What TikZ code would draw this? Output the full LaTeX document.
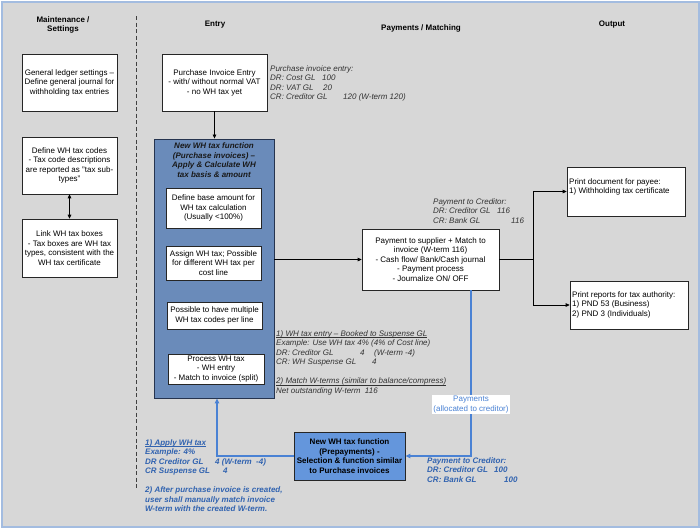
\documentclass[tikz,border=0pt]{standalone}
\usepackage{fontspec}
\setmainfont{Liberation Sans}
\usetikzlibrary{arrows.meta}
\definecolor{bgray}{HTML}{D7D7D7}
\definecolor{frameblue}{HTML}{A3BCE0}
\definecolor{bigblue}{HTML}{6A8BBA}
\definecolor{bigedge}{HTML}{26344F}
\definecolor{preblue}{HTML}{6496DC}
\definecolor{lineblue}{HTML}{4A82D4}
\definecolor{textblue}{HTML}{3163B0}
\definecolor{notegray}{HTML}{333333}
\newcommand\colat[2]{\makebox[#1][l]{#2}}
\newcommand\ulin[1]{\underline{\raisebox{0pt}[\height][0pt]{#1}}}
\begin{document}
\begin{tikzpicture}[x=1pt,y=-1pt,
  font=\fontsize{8}{9.5}\selectfont,
  box/.style={draw=black!85, fill=white, line width=0.7pt, align=center, inner sep=1pt},
  arr/.style={-{Triangle[length=4pt,width=3.6pt]}, line width=0.7pt},
  barr/.style={-{Triangle[length=5pt,width=4.5pt]}, line width=1.1pt, draw=lineblue, color=lineblue},
  note/.style={anchor=north west, align=left, inner sep=0pt, font=\fontsize{8}{9.5}\selectfont\itshape, text=notegray},
  bnote/.style={anchor=north west, align=left, inner sep=0pt, font=\fontsize{8}{9.5}\selectfont\bfseries\itshape, text=textblue},
  head/.style={font=\fontsize{8}{9.5}\selectfont\bfseries, align=center, inner sep=0pt}]
\useasboundingbox (0,0) rectangle (700,528);
\draw[frameblue, line width=2pt, fill=bgray] (1.5,1.5) rectangle (698.5,526.5);

% headers
\node[head] (h1) at (63,25) {Maintenance /\\Settings};
\node[head] (h2) at (215,25) {Entry};
\node[head] (h3) at (421,28) {Payments / Matching};
\node[head] (h4) at (612,25) {Output};

% dashed separator
\coordinate (dtop) at (136,16);
\coordinate (dbot) at (136,490);
\draw[black!75, line width=1pt, dash pattern=on 4pt off 2.5pt] (dtop) -- (dbot);

% maintenance boxes
\node[box, minimum width=95pt, minimum height=57pt] (gl) at (69.5,82.5)
  {General ledger settings –\\Define general journal for\\withholding tax entries};
\node[box, minimum width=95pt, minimum height=57pt] (codes) at (69.5,165.5)
  {Define WH tax codes\\- Tax code descriptions\\are reported as "tax sub-\\types"};
\node[box, minimum width=95pt, minimum height=58pt] (link) at (69.5,248)
  {Link WH tax boxes\\- Tax boxes are WH tax\\types, consistent with the\\WH tax certificate};
\draw[{Triangle[length=4pt,width=3.6pt]}-{Triangle[length=4pt,width=3.6pt]}, line width=0.8pt] (codes.south) -- (link.north);

% entry
\node[box, minimum width=105pt, minimum height=57pt] (pie) at (214.5,82.5)
  {Purchase Invoice Entry\\- with/ without normal VAT\\- no WH tax yet};
\node[note] (n1) at (270,65)
  {Purchase invoice entry:\\
   \colat{52pt}{DR: Cost GL}100\\
   \colat{53pt}{DR: VAT GL}20\\
   \colat{73pt}{CR: Creditor GL}120 (W-term 120)};

\node[draw=bigedge, fill=bigblue, line width=0.9pt, minimum width=120pt, minimum height=259pt, inner sep=0pt] (big) at (214,268.5) {};
\node[anchor=north, align=center, inner sep=0pt, font=\fontsize{8}{9.7}\selectfont\bfseries\itshape, text=black!90] (bigt) at ([yshift=-4pt]big.north)
  {New WH tax function\\(Purchase invoices) –\\Apply \& Calculate WH\\tax basis \& amount};
\node[box, minimum width=95pt, minimum height=40pt] (b1) at (213.5,208)
  {Define base amount for\\WH tax calculation\\(Usually <100\%)};
\node[box, minimum width=95pt, minimum height=34pt] (b2) at (213.5,263)
  {Assign WH tax; Possible\\for different WH tax per\\cost line};
\node[box, minimum width=95pt, minimum height=27pt] (b3) at (214.5,315.5)
  {Possible to have multiple\\WH tax codes per line};
\node[box, minimum width=96pt, minimum height=30pt] (b4) at (216,369)
  {Process WH tax\\- WH entry\\- Match to invoice (split)};

\draw[arr] (pie.south) -- (pie.south |- big.north);

% payments
\node[box, minimum width=137pt, minimum height=61pt] (pay) at (430.5,259.5)
  {Payment to supplier + Match to\\invoice (W-term 116)\\- Cash flow/ Bank/Cash journal\\- Payment process\\- Journalize ON/ OFF};
\node[note] (n2) at (433,198)
  {Payment to Creditor:\\
   \colat{64pt}{DR: Creditor GL}116\\
   \colat{78pt}{CR: Bank GL}116};
\draw[arr] (big.east |- pay.west) -- (pay.west);

\node[note] (n3) at (276,330)
  {\ulin{1) WH tax entry – Booked to Suspense GL}\\
   Example: Use WH tax 4\% (4\% of Cost line)\\
   \colat{84pt}{DR: Creditor GL}\colat{14pt}{4}(W-term -4)\\
   \colat{96pt}{CR: WH Suspense GL}4\\[9.5pt]
   \ulin{2) Match W-terms (similar to balance/compress)}\\
   Net outstanding W-term\ \ 116};

% output
\node[draw=black!85, fill=white, line width=0.7pt, minimum width=118pt, minimum height=49pt, inner sep=0pt] (doc) at (626,191.5) {};
\node[anchor=north west, align=left, inner sep=0pt] (doct) at (569,178)
  {Print document for payee:\\1) Withholding tax certificate};
\node[draw=black!85, fill=white, line width=0.7pt, minimum width=118pt, minimum height=48pt, inner sep=0pt] (rep) at (629,305) {};
\node[anchor=north west, align=left, inner sep=0pt] (rept) at (572,291)
  {Print reports for tax authority:\\1) PND 53 (Business)\\2) PND 3 (Individuals)};
\coordinate (j) at (533,259.5);
\draw[line width=0.7pt] (pay.east) -- (j);
\draw[arr] (j) |- (doc.west);
\draw[arr] (j) |- (rep.west);

% prepayments
\node[draw=black!85, fill=preblue, line width=0.9pt, minimum width=111pt, minimum height=48pt, inner sep=0pt, align=center, font=\fontsize{8}{9.6}\selectfont\bfseries] (pre) at (349.5,456)
  {New WH tax function\\(Prepayments) -\\Selection \& function similar\\to Purchase invoices};
\draw[barr] ([xshift=40.5pt]pay.south) |- node[pos=0.345, fill=white, text=lineblue, inner sep=1.2pt, align=center, font=\fontsize{8}{9.3}\selectfont] (plab) {Payments\\(allocated to creditor)} (pre.east);
\draw[barr] (pre.west) -| ([xshift=3pt]big.south);

\node[bnote] (n4) at (145,439)
  {\ulin{1) Apply WH tax}\\
   Example: 4\%\\
   \colat{70pt}{DR Creditor GL}4 (W-term\ \ -4)\\
   \colat{78pt}{CR Suspense GL}4\\[9.5pt]
   2) After purchase invoice is created,\\
   user shall manually match invoice\\
   W-term with the created W-term.};
\node[bnote] (n5) at (427,457)
  {Payment to Creditor:\\
   \colat{67pt}{DR: Creditor GL}100\\
   \colat{77pt}{CR: Bank GL}100};
\end{tikzpicture}
\end{document}
